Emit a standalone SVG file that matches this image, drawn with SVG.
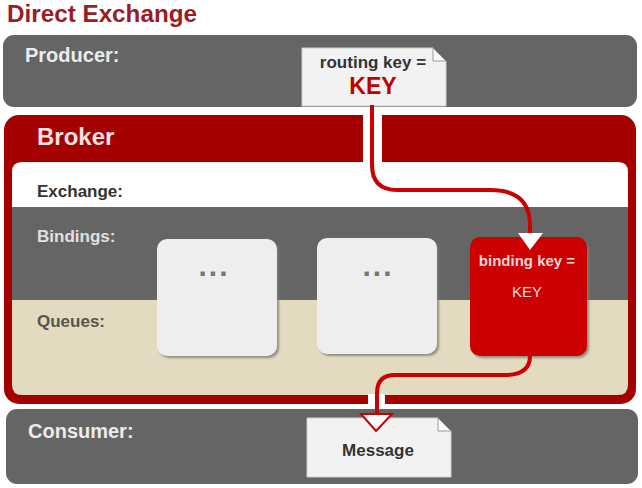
<svg xmlns="http://www.w3.org/2000/svg" width="642" height="488" viewBox="0 0 642 488">
<defs>
<style>
text{font-family:"Liberation Sans",Arial,sans-serif;font-weight:bold;}
.lane{fill:#656565;}
.lbl-light{fill:#ececec;font-size:20px;}
.lbl-dark{fill:#333;font-size:17px;}
.doc{fill:#f2f2f2;stroke:#d0d0d0;stroke-width:1;}
.fold{fill:#fafafa;stroke:#9a9a9a;stroke-width:1;}
.qbox{fill:#eeeeee;}
.shadow{fill:#7d7b70;opacity:0.8;}
.dots{fill:#777;font-size:30px;letter-spacing:2px;}
.wire{fill:none;stroke:#cc0000;stroke-width:4;}
</style>
<filter id="blur" x="-10%" y="-10%" width="120%" height="120%"><feGaussianBlur stdDeviation="1"/></filter>
</defs>
<rect width="642" height="488" fill="#ffffff"/>

<g id="title">
<text x="7" y="22" font-size="23" fill="#9b1c22" textLength="190" lengthAdjust="spacingAndGlyphs">Direct Exchange</text>
</g>

<g id="producer">
<rect class="lane" x="3" y="35" width="634" height="72" rx="11"/>
<text class="lbl-light" x="25" y="62">Producer:</text>
</g>

<g id="broker">
<rect x="4" y="115" width="632" height="289" rx="15" fill="#a50000"/>
<path d="M12,172 Q12,162 22,162 H618 Q628,162 628,172 V207 H12 Z" fill="#ffffff"/>
<rect x="12" y="207" width="616" height="93" class="lane"/>
<path d="M12,300 H628 V385 Q628,395 618,395 H22 Q12,395 12,385 Z" fill="#e3dbc0"/>
<rect x="363" y="114" width="19" height="48" fill="#ffffff"/>
<rect x="368" y="394" width="17" height="12" fill="#ffffff"/>
<text x="37" y="145" font-size="24" fill="#f3e2e2">Broker</text>
<text class="lbl-dark" x="37" y="197">Exchange:</text>
<text x="37" y="242" font-size="17" fill="#e0e0e0">Bindings:</text>
<text x="37" y="327" font-size="17" fill="#555">Queues:</text>
</g>

<g id="queue1">
<rect class="shadow" x="159" y="241" width="120" height="117" rx="10" filter="url(#blur)"/>
<rect class="qbox" x="157" y="239" width="120" height="117" rx="10"/>
<text class="dots" x="214" y="276" text-anchor="middle">...</text>
</g>

<g id="queue2">
<rect class="shadow" x="319" y="240" width="120" height="116" rx="10" filter="url(#blur)"/>
<rect class="qbox" x="317" y="238" width="120" height="116" rx="10"/>
<text class="dots" x="378" y="276" text-anchor="middle">...</text>
</g>

<g id="queue3">
<rect class="shadow" x="472" y="239" width="117" height="119" rx="10" filter="url(#blur)"/>
<rect x="470" y="237" width="117" height="119" rx="10" fill="#cc0000"/>
<text x="527" y="266" font-size="15" fill="#f6d6d6" text-anchor="middle">binding key =</text>
<text x="527" y="297" font-size="15" fill="#efdcdc" text-anchor="middle" style="font-weight:normal">KEY</text>
</g>

<g id="consumer">
<rect class="lane" x="6" y="409" width="632" height="75" rx="11"/>
<text class="lbl-light" x="28" y="438">Consumer:</text>
</g>

<g id="routing-doc">
<path class="doc" d="M302,48 H433 L446,61 V106 H302 Z"/>
<path class="fold" d="M433,48 V61 H446 Z"/>
<text x="373" y="68" font-size="17" fill="#333" text-anchor="middle">routing key =</text>
<text x="373" y="94" font-size="23" fill="#c00000" text-anchor="middle">KEY</text>
</g>

<g id="connectors">
<path class="wire" d="M372,105 V165 Q372,190 397,190 H490 Q530,190 530,225 V236"/>
<polygon points="518,233 543,233 530,250" fill="#ffffff"/>
<path class="wire" d="M530,356 Q530,375 505,375 H395 Q377,375 377,393 V416"/>
</g>

<g id="message-doc">
<path class="doc" d="M307,418 H438 L451,431 V477 H307 Z"/>
<path class="fold" d="M438,418 V431 H451 Z"/>
<polygon points="361,414 392,414 376,431" fill="#ffffff" stroke="#cc0000" stroke-width="2"/>
<text x="378" y="456" font-size="17" fill="#333" text-anchor="middle">Message</text>
</g>
</svg>
